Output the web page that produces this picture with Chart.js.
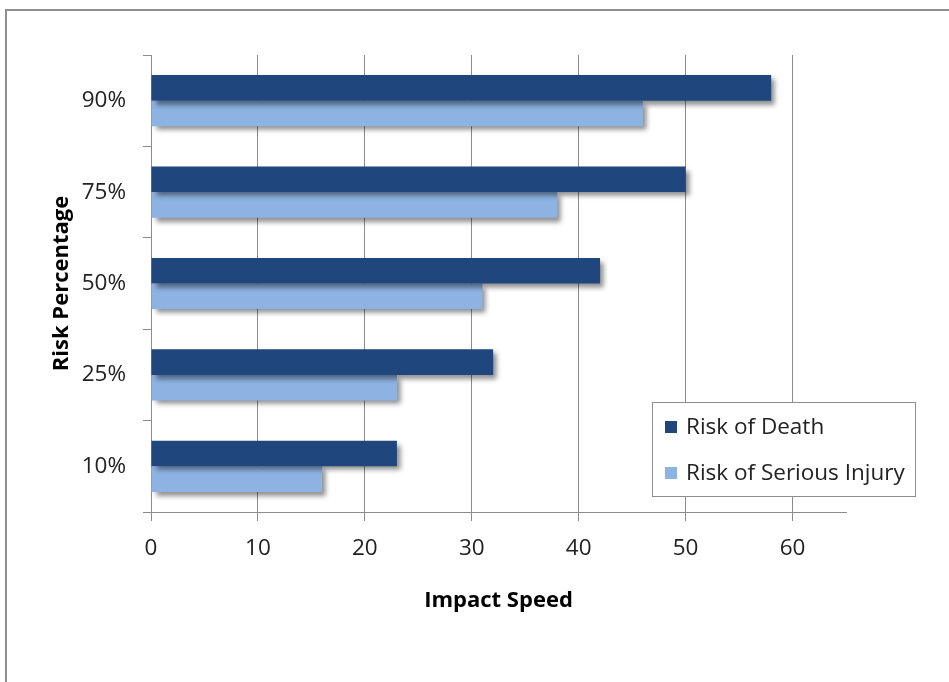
<!DOCTYPE html>
<html>
<head>
<meta charset="utf-8">
<title>Risk by Impact Speed</title>
<script src="https://cdn.jsdelivr.net/npm/chart.js@4/dist/chart.umd.min.js"></script>
<style>
  html, body { margin: 0; padding: 0; background: #fff; overflow: hidden; }
  #wrap { position: relative; width: 949px; height: 682px; }
  #frame { position: absolute; left: 5px; top: 9px; width: 960px; height: 700px;
           border-top: 2px solid #8e8e8e; border-left: 2px solid #8e8e8e; box-sizing: border-box; pointer-events: none; }
  canvas { position: absolute; left: 0; top: 0; }
</style>
</head>
<body>
<div id="wrap">
  <canvas id="chart" width="949" height="682"></canvas>
  <div id="frame"></div>
</div>
<script>
// Risk levels (top to bottom) and the impact speed at which each is reached
const riskLevels = ['90%', '75%', '50%', '25%', '10%'];
const deathSpeed = [58, 50, 42, 32, 23];
const injurySpeed = [46, 38, 31, 23, 16];
const speedTicks = [0, 10, 20, 30, 40, 50, 60];

const seriesNames = ['Risk of Death', 'Risk of Serious Injury'];
const seriesColors = ['#1f477d', '#8db3e2'];

const FONT = '"Open Sans", Lato, sans-serif';
const TEXT_SIZE = 22.5;
const TITLE_SIZE = 22;

// Soft drop shadow under the bars
const barShadow = {
  id: 'barShadow',
  beforeDatasetsDraw(chart) {
    const ctx = chart.ctx;
    ctx.save();
    ctx.shadowColor = 'rgba(0,0,0,0.45)';
    ctx.shadowBlur = 5;
    ctx.shadowOffsetX = 4;
    ctx.shadowOffsetY = 4;
  },
  afterDatasetsDraw(chart) {
    chart.ctx.restore();
  }
};

// Boxed legend sitting in the lower right of the plot
const boxLegend = {
  id: 'boxLegend',
  afterDraw(chart) {
    const ctx = chart.ctx;
    const x = 652, y = 402, w = 263, h = 94;
    ctx.save();
    ctx.fillStyle = '#ffffff';
    ctx.fillRect(x, y, w, h);
    ctx.strokeStyle = '#8e8e8e';
    ctx.lineWidth = 1;
    ctx.strokeRect(x + 0.5, y + 0.5, w, h);
    ctx.font = TEXT_SIZE + 'px ' + FONT;
    ctx.textBaseline = 'middle';
    chart.data.datasets.forEach((ds, i) => {
      const cy = y + 25 + i * 46;
      ctx.fillStyle = ds.backgroundColor;
      ctx.fillRect(x + 13, cy - 6, 12, 12);
      ctx.fillStyle = '#222222';
      ctx.fillText(ds.label, x + 34, cy + 1);
    });
    ctx.restore();
  }
};

new Chart(document.getElementById('chart'), {
  type: 'bar',
  data: {
    labels: riskLevels,
    datasets: [
      { label: seriesNames[0], data: deathSpeed, backgroundColor: seriesColors[0] },
      { label: seriesNames[1], data: injurySpeed, backgroundColor: seriesColors[1] }
    ]
  },
  plugins: [barShadow, boxLegend],
  options: {
    indexAxis: 'y',
    responsive: false,
    animation: false,
    devicePixelRatio: 1,
    layout: { padding: { left: 0, top: 55, right: 103, bottom: 62 } },
    datasets: { bar: { categoryPercentage: 0.56, barPercentage: 1.0, borderWidth: 0 } },
    plugins: { legend: { display: false }, tooltip: { enabled: false } },
    scales: {
      x: {
        type: 'linear',
        min: 0,
        max: 65,
        afterBuildTicks(scale) { scale.ticks = speedTicks.map(v => ({ value: v })); },
        afterFit(scale) { scale.height = 108; },
        ticks: { color: '#222222', font: { family: FONT, size: TEXT_SIZE }, padding: 14, maxRotation: 0 },
        grid: { color: '#8c8c8c', lineWidth: 1, drawOnChartArea: true, drawTicks: true, tickLength: 9, tickColor: '#8c8c8c' },
        border: { display: true, color: '#8c8c8c', width: 1 },
        title: { display: true, text: 'Impact Speed', color: '#000', font: { family: FONT, size: TITLE_SIZE, weight: 'bold' }, padding: { top: 0, bottom: 6 } }
      },
      y: {
        type: 'category',
        offset: true,
        afterFit(scale) { scale.width = 151; },
        ticks: { color: '#222222', font: { family: FONT, size: TEXT_SIZE }, padding: 17 },
        grid: { offset: true, drawOnChartArea: false, drawTicks: true, tickLength: 8, tickColor: '#8c8c8c', color: '#8c8c8c' },
        border: { display: true, color: '#8c8c8c', width: 1 },
        title: { display: true, text: 'Risk Percentage', color: '#000', font: { family: FONT, size: TITLE_SIZE, weight: 'bold' }, padding: { top: 49, bottom: 0 } }
      }
    }
  }
});
</script>
</body>
</html>
